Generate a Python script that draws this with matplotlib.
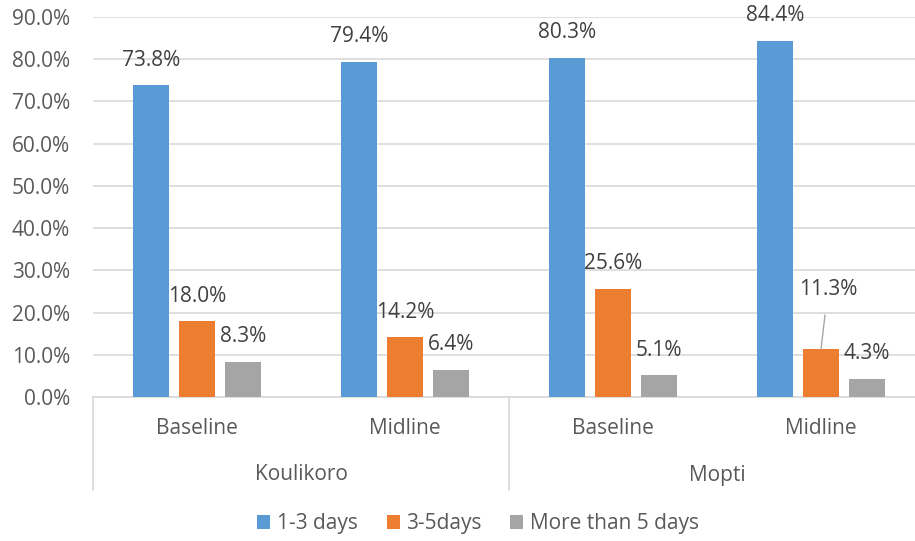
import numpy as np
import matplotlib.pyplot as plt
from matplotlib.transforms import blended_transform_factory

plt.rcParams['font.family'] = ['Open Sans', 'DejaVu Sans']

# survey rounds per region
regions = ["Koulikoro", "Mopti"]
rounds = ["Baseline", "Midline", "Baseline", "Midline"]
series = ["1-3 days", "3-5days", "More than 5 days"]
days_1_3 = [73.8, 79.4, 80.3, 84.4]
days_3_5 = [18.0, 14.2, 25.6, 11.3]
days_5_plus = [8.3, 6.4, 5.1, 4.3]
yticks = [0, 10, 20, 30, 40, 50, 60, 70, 80, 90]

colors = ["#5B9BD5", "#ED7D31", "#A5A5A5"]
grid_col = "#D9D9D9"
axis_txt = "#595959"
label_txt = "#404040"
fs = 15

fig = plt.figure(figsize=(9.15, 5.41), dpi=100)
ax = fig.add_axes([93 / 915, 1 - 397 / 541, 832 / 915, 380 / 541])

x = np.arange(len(rounds))
width = 36 / 208
step = 46 / 208
values = [days_1_3, days_3_5, days_5_plus]

for i, (vals, name) in enumerate(zip(values, series)):
    ax.bar(x + (i - 1) * step, vals, width, color=colors[i], label=name, zorder=3)

# data labels, offset in pixels from the bar top
for i, vals in enumerate(values):
    for j, v in enumerate(vals):
        bx = x[j] + (i - 1) * step
        if i == 1 and j == 3:
            ax.annotate(f"{v:.1f}%", xy=(bx, v), xytext=(7 * 0.72, 60 * 0.72),
                        textcoords="offset points", ha="center", va="center",
                        fontsize=fs, color=label_txt,
                        arrowprops=dict(arrowstyle="-", color="#A6A6A6", lw=1,
                                        shrinkA=9, shrinkB=0))
        else:
            ax.annotate(f"{v:.1f}%", xy=(bx, v), xytext=(0, 25 * 0.72),
                        textcoords="offset points", ha="center", va="center",
                        fontsize=fs, color=label_txt)

ax.set_xlim(-0.5, 3.5)
ax.set_ylim(0, 90)
ax.set_yticks(yticks)
ax.set_yticklabels([f"{t:.1f}%" for t in yticks])
ax.yaxis.grid(True, color=grid_col, linewidth=1.2, zorder=0)
ax.set_axisbelow(True)
ax.tick_params(axis="y", length=0, pad=16.5, labelsize=fs, labelcolor=axis_txt)
ax.set_xticks([])
for s in ["top", "right", "left"]:
    ax.spines[s].set_visible(False)
ax.spines["bottom"].set_color(grid_col)
ax.spines["bottom"].set_linewidth(1.2)

# two-level category axis
trans = blended_transform_factory(ax.transData, ax.transAxes)
px = 1 / 380
for j, r in enumerate(rounds):
    ax.text(x[j], -31 * px, r, transform=trans, ha="center", va="center",
            fontsize=fs, color=axis_txt)
for k, reg in enumerate(regions):
    ax.text(2 * k + 0.5, -78 * px, reg, transform=trans, ha="center", va="center",
            fontsize=fs, color=axis_txt)
for sx in [-0.5, 1.5, 3.5]:
    ax.plot([sx, sx], [0, -93 * px], transform=trans, color=grid_col,
            linewidth=1.2, clip_on=False)

fig.legend(loc="center", bbox_to_anchor=(478 / 915, 1 - 524 / 541), ncol=3,
           frameon=False, fontsize=fs, handlelength=0.62, handleheight=0.62,
           handletextpad=0.3, columnspacing=1.4, labelcolor=axis_txt)

fig.savefig("out.png", dpi=100)
